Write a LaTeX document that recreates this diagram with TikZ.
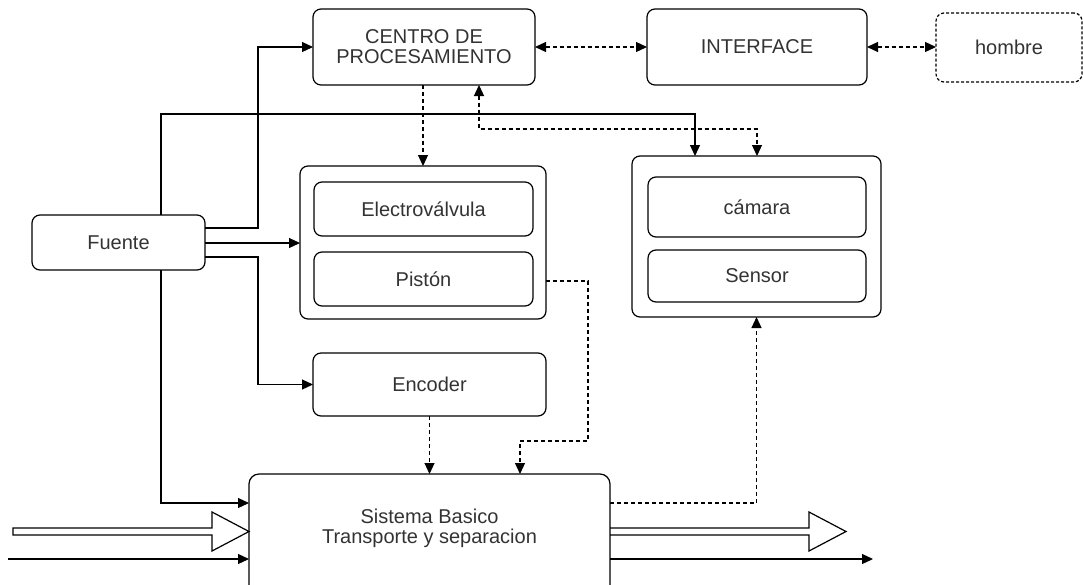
\documentclass[tikz,border=0pt]{standalone}
\usepackage{fontspec}
\setmainfont{Liberation Sans}
\usetikzlibrary{arrows.meta,calc}
\definecolor{txt}{RGB}{51,51,51}
\begin{document}
\begin{tikzpicture}[x=1pt,y=-1pt,
  lbl/.style={font=\fontsize{20}{20}\selectfont, text=txt, align=center},
  box/.style={draw, line width=1.2pt, rounded corners=8pt, inner sep=0pt, outer sep=0pt, lbl},
  tip/.style={-{Triangle[length=11pt,width=10pt]}},
  conn/.style={line width=1.2pt, tip},
  dconn/.style={conn, dash pattern=on 4pt off 3pt},
  both/.style={{Triangle[length=11pt,width=10pt]}-{Triangle[length=11pt,width=10pt]}},
  hollow/.style={line width=1.2pt, line join=miter}]
\useasboundingbox (0,0) rectangle (1083,584);
\clip (0,0) rectangle (1083,584);

% blocks
\node[box, minimum width=222pt, minimum height=76pt] (centro) at (424,47) {CENTRO DE\\PROCESAMIENTO};
\node[box, minimum width=220pt, minimum height=76pt] (inter) at (757,47) {INTERFACE};
\node[box, dash pattern=on 3pt off 2pt, minimum width=146pt, minimum height=69pt] (hombre) at (1009,47.5) {hombre};

\node[box, minimum width=246pt, minimum height=153pt] (evout) at (423,242.5) {};
\node[box, minimum width=219pt, minimum height=54pt] (ev) at (423.5,209) {Electroválvula};
\node[box, minimum width=219pt, minimum height=54pt] (piston) at (423.5,279) {Pistón};

\node[box, minimum width=233pt, minimum height=63pt] (encoder) at (429.5,384.5) {Encoder};
\node[box, minimum width=173pt, minimum height=55pt] (fuente) at (118.5,242.5) {Fuente};

\node[box, minimum width=249pt, minimum height=161pt] (camout) at (756.5,236.5) {};
\node[box, minimum width=218pt, minimum height=60pt] (camara) at (757,207) {cámara};
\node[box, minimum width=218pt, minimum height=52pt] (sensor) at (757,276) {Sensor};

\node[box, rounded corners=10pt, minimum width=361pt, minimum height=140pt,
  label={[lbl, yshift=16pt]center:{Sistema Basico\\Transporte y separacion}}] (sistema) at (429.5,544) {};

% power lines from the source
\draw[conn] (fuente.east |- 0,228) -| (258,47) -- (centro.west);
\draw[conn] (fuente.east |- 0,243) -- (evout.west |- 0,243);
\draw[conn] (fuente.east |- 0,257) -| (258,384.5) -- (encoder.west);
\draw[conn] (fuente.south -| 161,0) |- (sistema.west |- 0,503);
\draw[conn] (fuente.north -| 161,0) |- (695,114) -- (camout.north -| 695,0);

% signal lines
\draw[dconn, both] (centro.south -| 479,0) |- (757,129) -- (camout.north -| 757,0);
\draw[dconn] (evout.north |- centro.south) -- (evout.north);
\draw[dconn] (encoder.south) -- (encoder.south |- sistema.north);
\draw[dconn] (evout.east |- 0,281) -| (588,441) -| (sistema.north -| 520,0);
\draw[dconn] (sistema.east |- 0,503) -| (camout.south);
\draw[dconn, both] (centro.east) -- (inter.west);
\draw[dconn, both] (inter.east) -- (inter.east -| hombre.west);

% material flow in and out
\coordinate (inA) at (13,531.5);
\coordinate (outA) at (846,531.5);
\coordinate (inB) at (8,559);
\coordinate (outB) at (873,559);
\draw[hollow] (inA) ++(0,-3.5) -- (212,528) -- (212,512) -- (sistema.west |- inA)
  -- (212,551) -- (212,535) -- (13,535) -- cycle;
\draw[hollow] (sistema.east |- 0,528) -- (809,528) -- (809,512) -- (outA)
  -- (809,551) -- (809,535) -- (sistema.east |- 0,535);
\draw[conn] (inB) -- (sistema.west |- inB);
\draw[conn] (sistema.east |- outB) -- (outB);
\end{tikzpicture}
\end{document}
